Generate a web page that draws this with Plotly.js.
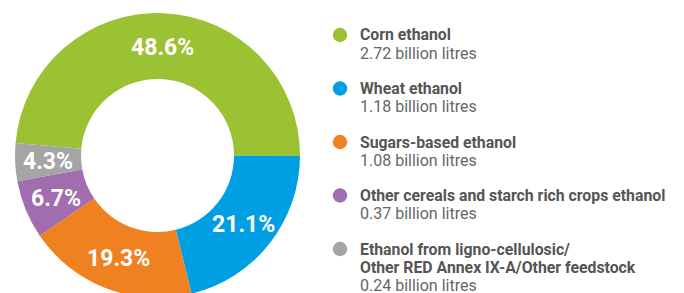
<!DOCTYPE html>
<html><head><meta charset="utf-8">
<script src="https://cdn.plot.ly/plotly-3.0.1.min.js"></script>
<style>html,body{margin:0;padding:0;overflow:hidden;background:#fff}#chart{width:684px;height:311px}</style>
</head><body><div id="chart"></div>
<script>
const categories = ["Corn ethanol", "Wheat ethanol", "Sugars-based ethanol",
  "Other cereals and starch rich crops ethanol",
  "Ethanol from ligno-cellulosic/<br>Other RED Annex IX-A/Other feedstock"];
const volumes = [2.72, 1.18, 1.08, 0.37, 0.24];
const volumeLabels = ["2.72 billion litres", "1.18 billion litres", "1.08 billion litres", "0.37 billion litres", "0.24 billion litres"];
const percentLabels = ["48.6%", "21.1%", "19.3%", "6.7%", "4.3%"];
const colors = ["#9bc232", "#009fe3", "#f08120", "#a16dae", "#a5a5a5"];

const W = 684, H = 311;
const px = v => v / W, py = v => 1 - v / H;

// pie geometry (pixels)
const cx = 157.5, cy = 155.5, R = 142.5, hole = 0.537, rotation = -85;

const annotations = [], shapes = [];
const legX = 358, circX = 340, r = 7.2, y0 = 35, step = 53.5, lh = 18.3;
categories.forEach((c, i) => {
  const ny = y0 + step * i;
  const lines = c.split("<br>");
  lines.forEach((ln, k) => {
    annotations.push({xref: "paper", yref: "paper", x: px(legX), y: py(ny + k * lh), xanchor: "left", yanchor: "middle",
      text: "<b>" + ln + "</b>", showarrow: false, align: "left",
      font: {family: "Roboto", size: 15.8, color: "#555555"}});
  });
  annotations.push({xref: "paper", yref: "paper", x: px(legX), y: py(ny + lines.length * lh), xanchor: "left", yanchor: "middle",
    text: volumeLabels[i], showarrow: false, align: "left",
    font: {family: "Roboto", size: 16, color: "#666666"}});
  shapes.push({type: "circle", xref: "paper", yref: "paper", x0: px(circX - r), x1: px(circX + r),
    y0: py(ny + r), y1: py(ny - r), fillcolor: colors[i], line: {width: 0}});
});

// percentage labels at the middle of each slice
const total = volumes.reduce((a, b) => a + b, 0);
const rm = (R + R * hole) / 2;
let cum = 0;
volumes.forEach((v, i) => {
  const mid = (rotation + (cum + v / 2) / total * 360) * Math.PI / 180;
  cum += v;
  annotations.push({xref: "paper", yref: "paper", x: px(cx + rm * Math.sin(mid)), y: py(cy - rm * Math.cos(mid) + 1),
    xanchor: "center", yanchor: "middle", text: "<b>" + percentLabels[i] + "</b>", showarrow: false,
    font: {family: "Roboto", size: 23, color: "#ffffff"}});
});

const trace = {
  type: "pie", values: volumes, labels: categories, textinfo: "none",
  hole: hole, sort: false, direction: "clockwise", rotation: rotation,
  marker: {colors: colors, line: {width: 0}},
  domain: {x: [px(cx - R), px(cx + R)], y: [py(cy + R), py(cy - R)]},
  showlegend: false, hoverinfo: "label+value"
};

Plotly.newPlot("chart", [trace], {
  width: W, height: H, margin: {l: 0, r: 0, t: 0, b: 0},
  paper_bgcolor: "#fff", annotations: annotations, shapes: shapes, showlegend: false
}, {displayModeBar: false, staticPlot: true});
</script></body></html>
